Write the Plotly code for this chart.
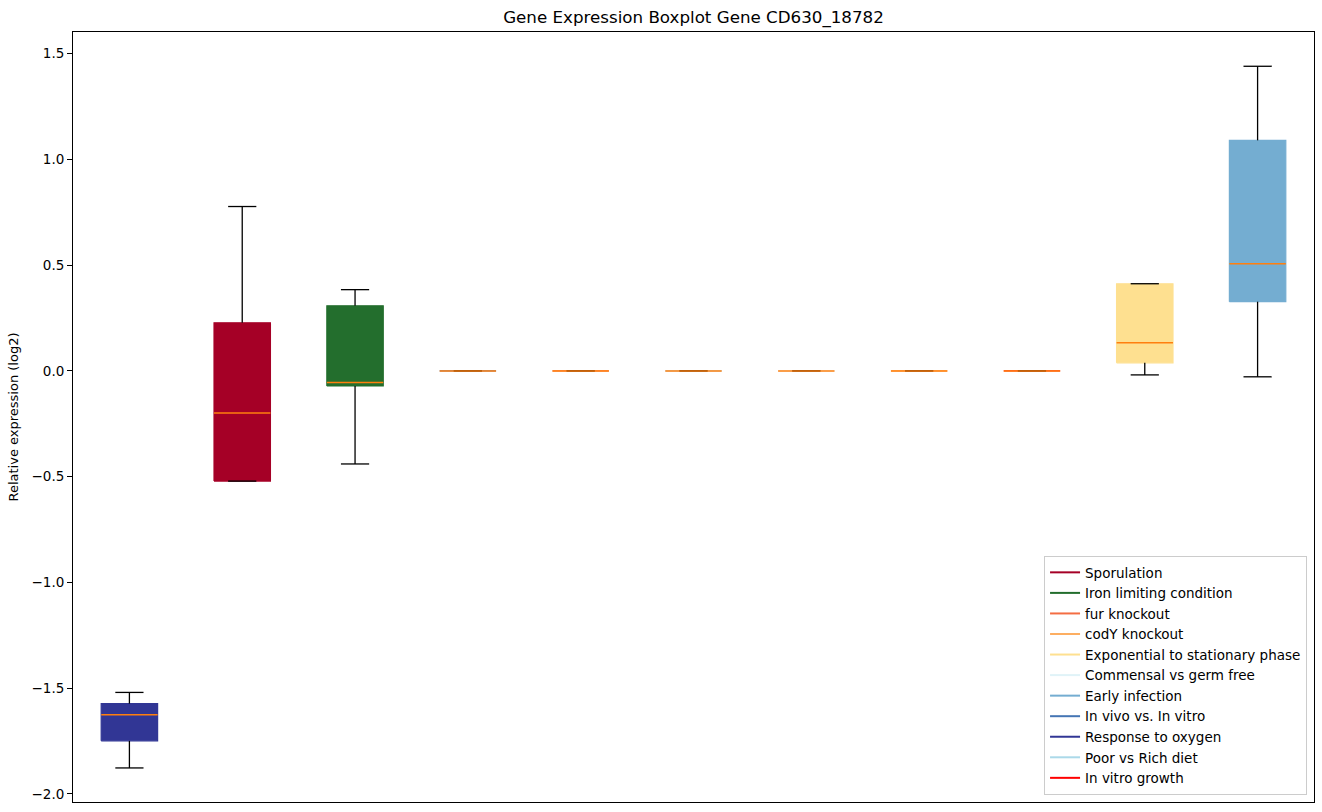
import plotly.graph_objects as go

# ---- data (box order, left to right) ----
box_labels = ["Response to oxygen", "Sporulation", "Iron limiting condition",
              "In vivo vs. In vitro", "fur knockout", "Poor vs Rich diet",
              "Commensal vs germ free", "codY knockout", "In vitro growth",
              "Exponential to stationary phase", "Early infection"]
whislo = [-1.877, -0.521, -0.440, 0.0, 0.0, 0.0, 0.0, 0.0, 0.0, -0.019, -0.028]
q1     = [-1.749, -0.521, -0.071, 0.0, 0.0, 0.0, 0.0, 0.0, 0.0, 0.038, 0.327]
median = [-1.626, -0.199, -0.055, 0.0, 0.0, 0.0, 0.0, 0.0, 0.0, 0.133, 0.507]
q3     = [-1.573, 0.227, 0.308, 0.0, 0.0, 0.0, 0.0, 0.0, 0.0, 0.412, 1.090]
whishi = [-1.520, 0.777, 0.384, 0.0, 0.0, 0.0, 0.0, 0.0, 0.0, 0.412, 1.440]

legend_labels = ["Sporulation", "Iron limiting condition", "fur knockout", "codY knockout",
                 "Exponential to stationary phase", "Commensal vs germ free", "Early infection",
                 "In vivo vs. In vitro", "Response to oxygen", "Poor vs Rich diet", "In vitro growth"]
legend_colors = ["#a50026", "#236e2d", "#f46d43", "#fdae61", "#fee090", "#e0f3f8",
                 "#74add1", "#4575b4", "#313695", "#abd9e9", "#ff0000"]
color_of = dict(zip(legend_labels, legend_colors))

yticks = [-2.0, -1.5, -1.0, -0.5, 0.0, 0.5, 1.0, 1.5]

BOX_W = 0.5
CAP_W = 0.25

fig = go.Figure()

for i, lab in enumerate(box_labels):
    pos = i + 1
    c = color_of[lab]
    x0, x1 = pos - BOX_W / 2, pos + BOX_W / 2
    # box body
    fig.add_trace(go.Scatter(
        x=[x0, x1, x1, x0, x0], y=[q1[i], q1[i], q3[i], q3[i], q1[i]],
        mode="lines", fill="toself", fillcolor=c, line=dict(color=c, width=1.2),
        showlegend=False, hoverinfo="skip"))
    # whiskers
    fig.add_trace(go.Scatter(
        x=[pos, pos, None, pos, pos, None,
           pos - CAP_W / 2, pos + CAP_W / 2, None, pos - CAP_W / 2, pos + CAP_W / 2],
        y=[q3[i], whishi[i], None, q1[i], whislo[i], None,
           whishi[i], whishi[i], None, whislo[i], whislo[i]],
        mode="lines", line=dict(color="black", width=1.3),
        showlegend=False, hoverinfo="skip"))
    # median
    fig.add_trace(go.Scatter(
        x=[x0, x1], y=[median[i], median[i]], mode="lines",
        line=dict(color="#ff7f0e", width=1.5), showlegend=False, hoverinfo="skip"))

for lab, c in zip(legend_labels, legend_colors):
    fig.add_trace(go.Scatter(x=[None], y=[None], mode="lines", name=lab,
                             line=dict(color=c, width=2)))

fig.update_layout(
    width=1322, height=812,
    margin=dict(l=73, r=8, t=32, b=10, autoexpand=False),
    paper_bgcolor="white", plot_bgcolor="white",
    font=dict(family="DejaVu Sans", size=13, color="black"),
    title=dict(text="Gene Expression Boxplot Gene CD630_18782", x=0.5, xref="paper",
               xanchor="center", y=1 - 17 / 812, yanchor="middle", automargin=False,
               font=dict(size=16.7)),
    xaxis=dict(range=[0.5, len(box_labels) + 0.5], showticklabels=False, ticks="",
               showgrid=False, zeroline=False, showline=True, linecolor="black",
               linewidth=1, mirror=True, automargin=False),
    yaxis=dict(range=[-2.038, 1.602], tickvals=yticks, tickformat=".1f",
               ticks="outside", ticklen=5, tickcolor="black", automargin=False,
               tickfont=dict(size=13.5),
               showgrid=False, zeroline=False, showline=True, linecolor="black",
               linewidth=1, mirror=True,
               title=dict(text="Relative expression (log2)", standoff=9,
                          font=dict(size=13))),
    legend=dict(x=0.9944, y=0.009, xanchor="right", yanchor="bottom",
                bordercolor="#cccccc", borderwidth=1, bgcolor="rgba(255,255,255,0.8)",
                font=dict(size=13.5), tracegroupgap=0, itemwidth=30),
    showlegend=True,
)

fig.write_html("out.html", post_script="document.body.style.margin='0';",
               config={"displayModeBar": False})
